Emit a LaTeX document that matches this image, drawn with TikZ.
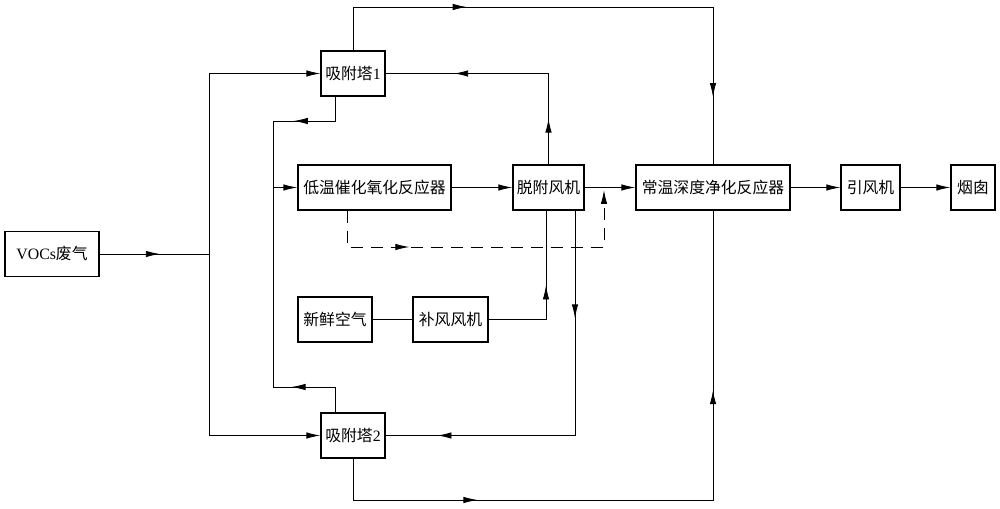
\documentclass[tikz,border=0pt]{standalone}
\usepackage{fontspec}
\setmainfont{Liberation Serif}
\newfontfamily\cjk{Noto Sans CJK SC}
\usetikzlibrary{arrows.meta, decorations.markings}

\tikzset{
  box/.style={draw, line width=0.8pt, minimum height=0.9cm, inner sep=1pt,
    font=\fontsize{9pt}{11pt}\selectfont},
  pipe/.style={line width=0.5pt},
  arr/.style={pipe, -{Latex[length=0.28cm,width=0.13cm]}},
  tipat/.style={postaction={decorate, decoration={markings,
    mark=at position #1 with {\arrow{Latex[length=0.28cm,width=0.13cm]}}}}},
}

\begin{document}
\begin{tikzpicture}[x=0.02cm, y=-0.02cm]
  \useasboundingbox (0,0) rectangle (1000,509);

  \node[box, minimum width=1.88cm] (voc)  at (52,254)    {VOCs{\cjk 废气}};
  \node[box, minimum width=1.28cm] (t1)   at (353,73.5)  {{\cjk 吸附塔}1};
  \node[box, minimum width=1.28cm] (t2)   at (353,435.5) {{\cjk 吸附塔}2};
  \node[box, minimum width=3.06cm] (low)  at (374.5,187.5) {\cjk 低温催化氧化反应器};
  \node[box, minimum width=1.42cm] (fan)  at (548.5,187.5) {\cjk 脱附风机};
  \node[box, minimum width=3.08cm] (deep) at (713,187.5)   {\cjk 常温深度净化反应器};
  \node[box, minimum width=1.18cm] (ind)  at (870.5,187.5) {\cjk 引风机};
  \node[box, minimum width=0.88cm] (chim) at (973,187.5)   {\cjk 烟囱};
  \node[box, minimum width=1.48cm] (air)  at (335,319.5)   {\cjk 新鲜空气};
  \node[box, minimum width=1.50cm] (sup)  at (450.5,319.5) {\cjk 补风风机};

  \coordinate (ja)   at (209,254);
  \coordinate (topr) at (713,7);
  \coordinate (botr) at (713,500);
  \coordinate (dj)   at (604,188);

  % waste gas to both towers
  \draw[pipe, tipat=0.55] (voc.east) -- (ja);
  \draw[arr] (ja) |- (t1.west);
  \draw[arr] (ja) |- (t2.west);

  % main line
  \draw[arr] (low.east) -- (fan.west);
  \draw[arr] (fan.east) -- (deep.west);
  \draw[arr] (deep.east) -- (ind.west);
  \draw[arr] (ind.east) -- (chim.west);

  % towers to deep reactor
  \draw[pipe, tipat=0.28, tipat=0.88] (t1.north) |- (topr) -- (deep.north);
  \draw[pipe, tipat=0.24, tipat=0.74] (t2.south) |- (botr) -- (deep.south);

  % desorption loop
  \draw[arr, tipat=0.37] ([xshift=-0.36cm]t1.south) |- (273,121) |- (low.west);
  \draw[pipe, tipat=0.24] ([xshift=-0.36cm]t2.north) |- (273,387) -- (273,188);
  \draw[pipe, tipat=0.18, tipat=0.73] (fan.north) |- (t1.east);
  \draw[pipe, tipat=0.26, tipat=0.875] ([xshift=0.53cm]fan.south) |- (t2.east);

  % make-up air
  \draw[pipe] (air.east) -- (sup.west);
  \draw[pipe, tipat=0.55] (sup.east) -| ([xshift=-0.05cm]fan.south);

  % bypass
  \draw[arr, dash pattern=on 0.24cm off 0.16cm, tipat=0.28, shorten >=0.04cm]
    ([xshift=-0.55cm]low.south) |- (604,247) -- (dj);
\end{tikzpicture}
\end{document}
